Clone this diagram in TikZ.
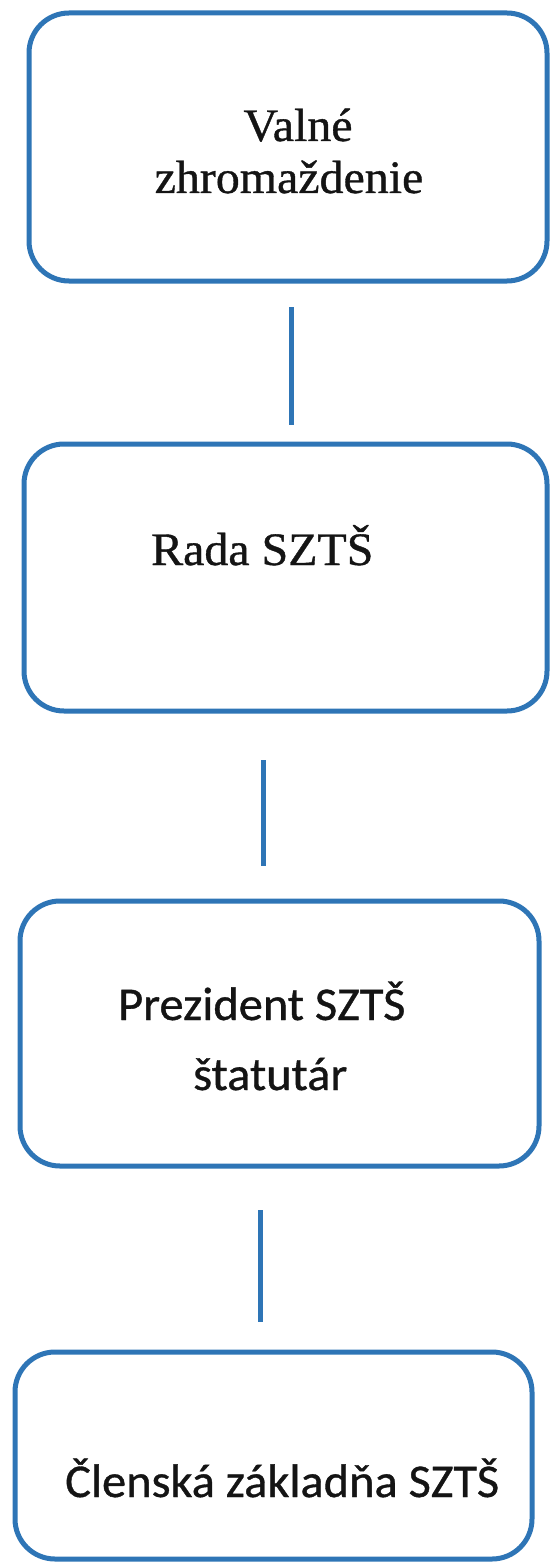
\documentclass[tikz,border=0pt]{standalone}
\usepackage{fontspec}
\newfontfamily\serifb[FakeStretch=1.03,FakeBold=0.8]{Liberation Serif}
\newfontfamily\sansb[FakeStretch=1.03,FakeBold=0.8]{Carlito}
\definecolor{boxblue}{RGB}{46,117,182}
\definecolor{txt}{RGB}{20,20,20}
\tikzset{
  orgbox/.style={draw=boxblue, line width=5pt, rounded corners=40pt, inner sep=0pt},
  link/.style={draw=boxblue, line width=5pt},
  serlabel/.style={font=\serifb\fontsize{46.5}{50}\selectfont, text=txt, inner sep=0pt},
  sanlabel/.style={font=\sansb\fontsize{47}{50}\selectfont, text=txt, inner sep=0pt}
}
\begin{document}
\begin{tikzpicture}[x=1pt,y=-1pt]
\useasboundingbox[fill=white] (0,0) rectangle (549,1562);
% boxes
\node[orgbox, minimum width=518pt, minimum height=268pt] (b1) at (288,147) {};
\node[orgbox, minimum width=523pt, minimum height=267pt] (b2) at (285.5,577.5) {};
\node[orgbox, minimum width=519pt, minimum height=265pt] (b3) at (279.5,1033.5) {};
\node[orgbox, minimum width=517pt, minimum height=207pt] (b4) at (273.5,1455.5) {};
% texts
\node[serlabel, anchor=base] (t1a) at (298,141) {Valné};
\node[serlabel, anchor=base] (t1b) at (289,193) {zhromaždenie};
\node[serlabel, anchor=base west] (t2) at (151,565) {Rada SZTŠ};
\node[sanlabel, anchor=base west] (t3a) at (118,1020) {Prezident SZTŠ};
\node[sanlabel, anchor=base west] (t3b) at (193,1090) {štatutár};
\node[sanlabel, anchor=base west] (t4) at (65,1497) {Členská základňa SZTŠ};
% connectors
\coordinate (l1a) at (291,307); \coordinate (l1b) at (291,425);
\coordinate (l2a) at (263,760); \coordinate (l2b) at (263,866);
\coordinate (l3a) at (260,1210); \coordinate (l3b) at (260,1322);
\draw[link] (l1a) -- (l1b);
\draw[link] (l2a) -- (l2b);
\draw[link] (l3a) -- (l3b);
\end{tikzpicture}
\end{document}
